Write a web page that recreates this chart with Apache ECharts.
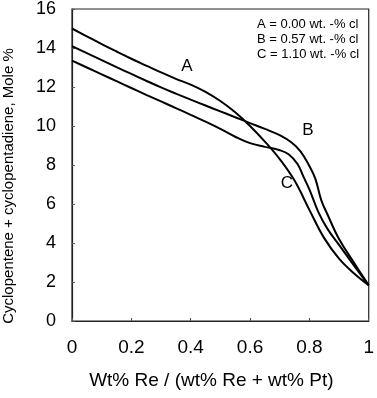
<!DOCTYPE html>
<html>
<head>
<meta charset="utf-8">
<script src="https://cdn.jsdelivr.net/npm/echarts@6/dist/echarts.min.js"></script>
<style>
  html, body { margin: 0; padding: 0; background: #fff; }
  #chart { width: 377px; height: 398px; }
</style>
</head>
<body>
<div id="chart"></div>
<script>
// curve A (0.00 wt.-% cl)
var aX = [0, 0.05, 0.1, 0.15, 0.2, 0.25, 0.3, 0.35, 0.4, 0.45, 0.5, 0.55, 0.6, 0.65, 0.7, 0.75, 0.8, 0.85, 0.9, 0.95, 1.0];
var aY = [15.0, 14.6, 14.2, 13.82, 13.45, 13.1, 12.75, 12.42, 12.12, 11.75, 11.28, 10.7, 10.0, 9.2, 8.3, 7.2, 5.7, 4.25, 3.2, 2.45, 1.83];
// curve B (0.57 wt.-% cl)
var bX = [0, 0.05, 0.1, 0.15, 0.2, 0.25, 0.3, 0.35, 0.4, 0.45, 0.5, 0.55, 0.6, 0.65, 0.7, 0.74, 0.77, 0.8, 0.82, 0.84, 0.86, 0.9, 0.95, 1.0];
var bY = [14.1, 13.74, 13.38, 13.02, 12.67, 12.32, 11.98, 11.66, 11.35, 11.05, 10.75, 10.45, 10.15, 9.85, 9.53, 9.15, 8.7, 7.95, 7.3, 6.2, 5.5, 4.2, 3.0, 1.83];
// curve C (1.10 wt.-% cl)
var cX = [0, 0.05, 0.1, 0.15, 0.2, 0.25, 0.3, 0.35, 0.4, 0.45, 0.5, 0.55, 0.6, 0.65, 0.7, 0.73, 0.76, 0.78, 0.8, 0.83, 0.86, 0.9, 0.95, 1.0];
var cY = [13.35, 13.0, 12.65, 12.3, 11.95, 11.6, 11.26, 10.92, 10.57, 10.22, 9.85, 9.45, 9.12, 8.93, 8.76, 8.55, 8.05, 7.4, 6.75, 5.6, 4.75, 3.9, 2.85, 1.83];

var legendLines = ['A = 0.00 wt. -% cl', 'B = 0.57 wt. -% cl', 'C = 1.10 wt. -% cl'];
var font = 'Arial, "Liberation Sans", sans-serif';

function pairs(xs, ys) {
    var out = [];
    for (var i = 0; i < xs.length; i++) {
        out.push([xs[i], ys[i]]);
    }
    return out;
}

function curve(name, xs, ys) {
    return {
        name: name,
        type: 'line',
        smooth: 0.4,
        symbol: 'none',
        lineStyle: { color: '#000', width: 2 },
        data: pairs(xs, ys)
    };
}

var chart = echarts.init(document.getElementById('chart'));
var option = {
    animation: false,
    backgroundColor: '#fff',
    grid: {
        left: 72, right: 6, top: 7, bottom: 77,
        show: true, borderColor: '#222', borderWidth: 1.2
    },
    xAxis: {
        type: 'value',
        min: 0, max: 1, interval: 0.2,
        name: 'Wt% Re / (wt% Re + wt% Pt)',
        nameLocation: 'middle',
        nameGap: 50,
        nameTextStyle: { fontFamily: font, fontSize: 19, color: '#000', padding: [0, 18, 0, 0] },
        axisLine: { show: true, lineStyle: { color: '#222', width: 1.2 } },
        axisTick: { show: true, inside: true, length: 3, lineStyle: { color: '#555' } },
        axisLabel: { fontFamily: font, fontSize: 19, color: '#000', margin: 17 },
        splitLine: { show: false }
    },
    yAxis: {
        type: 'value',
        min: 0, max: 16, interval: 2,
        axisLine: { show: true, lineStyle: { color: '#222', width: 1.2 } },
        axisTick: { show: true, inside: true, length: 3, lineStyle: { color: '#555' } },
        axisLabel: { fontFamily: font, fontSize: 18, color: '#000', margin: 16 },
        splitLine: { show: false }
    },
    graphic: [
        {
            type: 'text', x: 9, y: 186, rotation: Math.PI / 2,
            style: {
                text: 'Cyclopentene + cyclopentadiene, Mole %',
                font: '15px ' + font, fill: '#000',
                align: 'center', verticalAlign: 'middle'
            }
        },
        {
            type: 'text', x: 257, y: 17,
            style: {
                text: legendLines.join('\n'),
                font: '13px ' + font, lineHeight: 15, fill: '#000',
                align: 'left', verticalAlign: 'top'
            }
        },
        { type: 'text', x: 187, y: 66, style: { text: 'A', font: '17px ' + font, fill: '#000', align: 'center', verticalAlign: 'middle' } },
        { type: 'text', x: 308, y: 130, style: { text: 'B', font: '17px ' + font, fill: '#000', align: 'center', verticalAlign: 'middle' } },
        { type: 'text', x: 287, y: 183, style: { text: 'C', font: '17px ' + font, fill: '#000', align: 'center', verticalAlign: 'middle' } }
    ],
    series: [
        curve('A', aX, aY),
        curve('B', bX, bY),
        curve('C', cX, cY)
    ]
};
chart.setOption(option);
</script>
</body>
</html>
